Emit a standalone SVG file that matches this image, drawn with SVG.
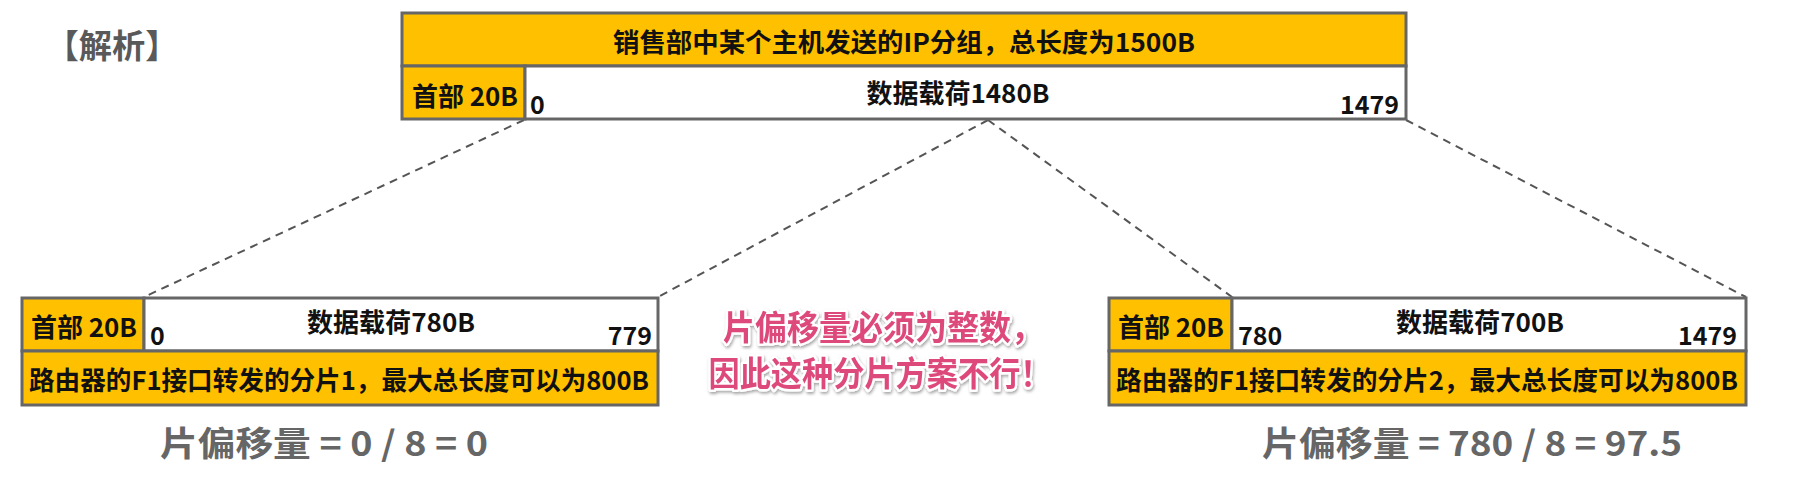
<svg xmlns="http://www.w3.org/2000/svg" width="1807" height="489" viewBox="0 0 1807 489">
<defs>
<style>
text{font-family:"Noto Sans CJK SC","Noto Sans",sans-serif;font-weight:bold;dominant-baseline:central}
.box{stroke:#666;stroke-width:3}
.y{fill:#FFC000}
.w{fill:#fff}
.t{font-size:26px;fill:#111;text-anchor:middle}
.n{font-size:25px;fill:#111}
.dash{stroke:#555;stroke-width:2;stroke-dasharray:8 6;fill:none}
.off{font-size:34px;fill:#666;text-anchor:middle}
.pink{font-size:34px;fill:#DE4A7C;text-anchor:middle;stroke:#fff;stroke-width:5;paint-order:stroke;stroke-linejoin:round}
</style>
<filter id="sh" x="-10%" y="-30%" width="120%" height="160%">
<feDropShadow dx="1" dy="2" stdDeviation="1.5" flood-color="#000" flood-opacity="0.35"/>
</filter>
</defs>
<text x="112" y="44" style="font-size:33px;fill:#595959;text-anchor:middle" textLength="133" lengthAdjust="spacingAndGlyphs">【解析】</text>
<g id="connectors">
<line class="dash" x1="524" y1="120" x2="144" y2="297"/>
<line class="dash" x1="988" y1="120" x2="658" y2="297"/>
<line class="dash" x1="988" y1="120" x2="1232" y2="297"/>
<line class="dash" x1="1406" y1="120" x2="1746" y2="297"/>
</g>
<g id="original">
<rect class="box y" x="402" y="13" width="1004" height="53"/>
<rect class="box y" x="402" y="66" width="123" height="53"/>
<rect class="box w" x="525" y="66" width="881" height="53"/>
<text class="t" x="904" y="40" textLength="582" lengthAdjust="spacingAndGlyphs">销售部中某个主机发送的IP分组，总长度为1500B</text>
<text class="t" x="465" y="94" textLength="106" lengthAdjust="spacingAndGlyphs">首部 20B</text>
<text class="n" x="530" y="103">0</text>
<text class="n" x="1399" y="103" text-anchor="end">1479</text>
<text class="t" x="958" y="91" textLength="183" lengthAdjust="spacingAndGlyphs">数据载荷1480B</text>
</g>
<g id="fragment1">
<rect class="box y" x="22" y="298" width="122" height="53"/>
<rect class="box w" x="144" y="298" width="514" height="53"/>
<rect class="box y" x="22" y="351" width="636" height="54"/>
<text class="t" x="84" y="325" textLength="106" lengthAdjust="spacingAndGlyphs">首部 20B</text>
<text class="n" x="150" y="334">0</text>
<text class="t" x="391" y="320" textLength="168" lengthAdjust="spacingAndGlyphs">数据载荷780B</text>
<text class="n" x="652" y="334" text-anchor="end">779</text>
<text class="t" x="339" y="378" textLength="620" lengthAdjust="spacingAndGlyphs">路由器的F1接口转发的分片1，最大总长度可以为800B</text>
</g>
<g id="fragment2">
<rect class="box y" x="1109" y="298" width="123" height="53"/>
<rect class="box w" x="1232" y="298" width="514" height="53"/>
<rect class="box y" x="1109" y="351" width="637" height="54"/>
<text class="t" x="1171" y="325" textLength="106" lengthAdjust="spacingAndGlyphs">首部 20B</text>
<text class="n" x="1238" y="334">780</text>
<text class="t" x="1480" y="320" textLength="168" lengthAdjust="spacingAndGlyphs">数据载荷700B</text>
<text class="n" x="1737" y="334" text-anchor="end">1479</text>
<text class="t" x="1427" y="378" textLength="622" lengthAdjust="spacingAndGlyphs">路由器的F1接口转发的分片2，最大总长度可以为800B</text>
</g>
<g id="offset1"><text class="off" x="324" y="441" textLength="328" lengthAdjust="spacingAndGlyphs">片偏移量 = 0 / 8 = 0</text></g>
<g id="offset2"><text class="off" x="1472" y="441" textLength="420" lengthAdjust="spacingAndGlyphs">片偏移量 = 780 / 8 = 97.5</text></g>
<g id="note" filter="url(#sh)">
<text class="pink" x="883" y="325" textLength="320" lengthAdjust="spacingAndGlyphs">片偏移量必须为整数，</text>
<text class="pink" x="880" y="371" textLength="343" lengthAdjust="spacingAndGlyphs">因此这种分片方案不行！</text>
</g>
</svg>
